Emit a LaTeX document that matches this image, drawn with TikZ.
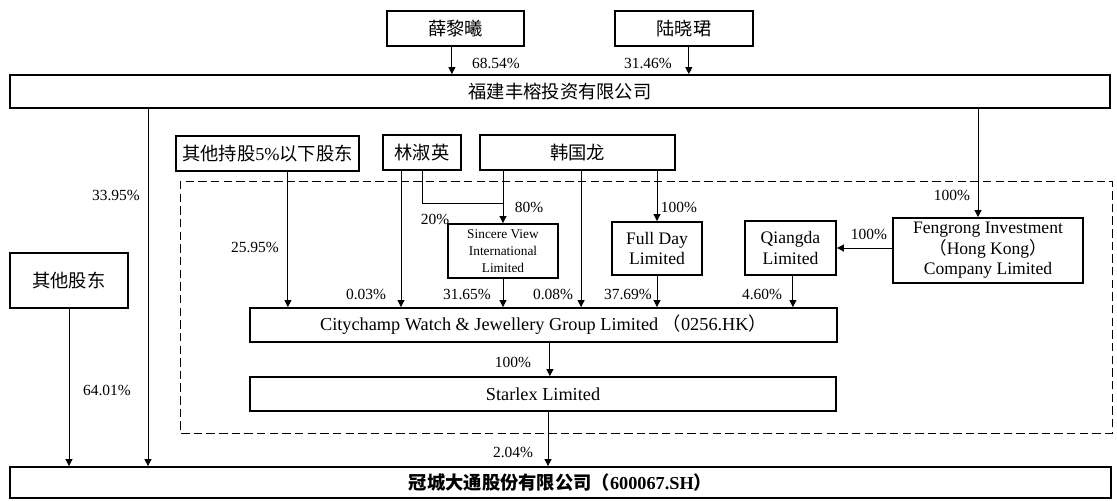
\documentclass[tikz,border=0pt]{standalone}
\usepackage{fontspec}
\setmainfont{Liberation Serif}
\newfontfamily\cjk{Noto Sans CJK SC}
\usetikzlibrary{arrows.meta, positioning, calc}

\begin{document}
\begin{tikzpicture}[
        x=0.025cm, y=-0.025cm,
        box/.style={rectangle, draw, line width=1.3pt, inner sep=0pt, align=center, font=\fontsize{13}{15}\selectfont},
        pct/.style={inner sep=0pt, font=\fontsize{11}{13}\selectfont},
        arr/.style={-{Triangle[length=5pt,width=5pt]}, line width=0.6pt},
        ln/.style={line width=0.6pt}
    ]
        \useasboundingbox (0,0) rectangle (1117,500);

        % Top shareholders
        \node[box, minimum width=3.425cm, minimum height=0.875cm] (xue) at (455.5,28.5) {\cjk 薛黎曦};
        \node[box, minimum width=3.45cm, minimum height=0.875cm] (lu) at (684,28.5) {\cjk 陆晓珺};
        \node[box, minimum width=27.5cm, minimum height=0.825cm] (fujian) at (560,91.5) {\cjk 福建丰榕投资有限公司};

        % Second row
        \node[box, minimum width=4.575cm, minimum height=0.875cm] (qita5) at (267.5,153.5) {{\cjk 其他持股}5\%{\cjk 以下股东}};
        \node[box, minimum width=1.95cm, minimum height=0.875cm] (lin) at (422,152.5) {\cjk 林淑英};
        \node[box, minimum width=4.875cm, minimum height=0.875cm] (han) at (577.5,152.5) {\cjk 韩国龙};
        \node[box, minimum width=2.95cm, minimum height=1.375cm] (qtgd) at (69,280.5) {\cjk 其他股东};

        % Holding companies
        \node[box, minimum width=2.75cm, minimum height=1.35cm, font=\fontsize{9.5}{12}\selectfont] (sincere) at (503,251) {Sincere View\\International\\Limited};
        \node[box, minimum width=2.25cm, minimum height=1.325cm, font=\fontsize{12.5}{14.5}\selectfont] (fullday) at (657,248.5) {Full Day\\Limited};
        \node[box, minimum width=2.275cm, minimum height=1.35cm, font=\fontsize{12.5}{14.5}\selectfont] (qiangda) at (790.5,248) {Qiangda\\Limited};
        \node[box, minimum width=4.75cm, minimum height=1.625cm, font=\fontsize{12.5}{14.5}\selectfont] (fengrong) at (988,250.5) {Fengrong Investment\\{\cjk （}Hong Kong{\cjk ）}\\Company Limited};

        \node[box, minimum width=14.675cm, minimum height=0.85cm] (city) at (543.5,325) {Citychamp Watch \& Jewellery Group Limited\ {\cjk （}0256.HK{\cjk ）}};
        \node[box, minimum width=14.65cm, minimum height=0.85cm] (starlex) at (543,394) {Starlex Limited};
        \node[box, minimum width=27.525cm, minimum height=0.775cm] (guan) at (560.5,482.5) {{\cjk\bfseries 冠城大通股份有限公司（}\textbf{600067.SH}{\cjk\bfseries ）}};

        % Dashed group
        \draw[ln, dash pattern=on 6pt off 3pt] (180,181) rectangle (1112,433);

        % Arrows
        \draw[arr] ([xshift=-0.09cm]xue.south) -- ([xshift=-0.09cm]xue.south |- fujian.north);
        \draw[arr] ([xshift=0.12cm]lu.south) -- ([xshift=0.12cm]lu.south |- fujian.north);
        \draw[arr] ([xshift=3.475cm]fujian.south west) coordinate (fl) -- (fl |- guan.north);
        \draw[arr] ([xshift=-0.25cm]fengrong.north |- fujian.south) -- ([xshift=-0.25cm]fengrong.north);
        \draw[arr] ([xshift=0.51cm]qita5.south) coordinate (q5) -- (q5 |- city.north);
        \draw[arr] ([xshift=-0.525cm]lin.south) coordinate (l1) -- (l1 |- city.north);
        \draw[ln] (lin.south) |- ([yshift=0.5cm]sincere.north);
        \draw[arr] (han.south -| sincere.north) -- (sincere.north);
        \draw[arr] ([xshift=0.09cm]han.south) coordinate (h1) -- (h1 |- city.north);
        \draw[arr] (han.south -| fullday.north) -- (fullday.north);
        \draw[arr] (sincere.south) -- (sincere.south |- city.north);
        \draw[arr] (fullday.south) -- (fullday.south |- city.north);
        \draw[arr] ([xshift=0.06cm]qiangda.south) coordinate (qd) -- (qd |- city.north);
        \draw[arr] (fengrong.west |- qiangda.east) -- (qiangda.east);
        \draw[arr] ([xshift=0.16cm]city.south) coordinate (c1) -- (c1 |- starlex.north);
        \draw[arr] ([xshift=0.125cm]starlex.south) coordinate (s1) -- (s1 |- guan.north);
        \draw[arr] (qtgd.south) -- (qtgd.south |- guan.north);

        % Percentages
        \node[pct] (p1) at (496,63) {68.54\%};
        \node[pct] (p2) at (648,63) {31.46\%};
        \node[pct] (p3) at (116,195) {33.95\%};
        \node[pct] (p4) at (952,195) {100\%};
        \node[pct] (p5) at (255,247) {25.95\%};
        \node[pct] (p6) at (435,219) {20\%};
        \node[pct] (p7) at (529,207) {80\%};
        \node[pct] (p8) at (679,207) {100\%};
        \node[pct] (p9) at (869,234) {100\%};
        \node[pct] (p10) at (366,294) {0.03\%};
        \node[pct] (p11) at (467,294) {31.65\%};
        \node[pct] (p12) at (553,294) {0.08\%};
        \node[pct] (p13) at (628,294) {37.69\%};
        \node[pct] (p14) at (762,294) {4.60\%};
        \node[pct] (p15) at (513,362) {100\%};
        \node[pct] (p16) at (513,452) {2.04\%};
        \node[pct] (p17) at (107,390) {64.01\%};

    \end{tikzpicture}
\end{document}
